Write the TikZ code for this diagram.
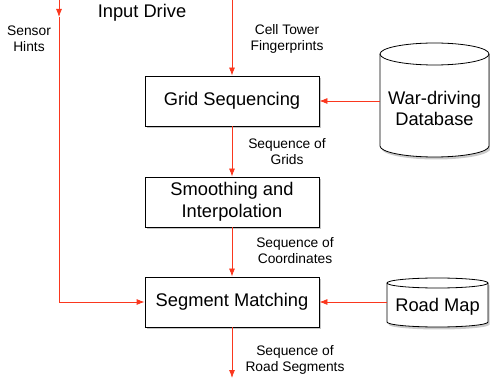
\documentclass[tikz,border=0pt]{standalone}
\usepackage{fontspec}
\setmainfont{Liberation Sans}
\usetikzlibrary{arrows.meta,shadows,calc}
\definecolor{arr}{RGB}{250,55,30}
\newcommand\mycyl[3]{%
  \fill[black!45,opacity=.45,transform canvas={shift={(1.5pt,-2.5pt)}}]
    ($(#1.north west)+(0,#3)$) -- ($(#1.south west)+(0,-#3)$)
    arc[start angle=180,end angle=360,x radius=#2pt,y radius=#3pt]
    -- ($(#1.north east)+(0,#3)$)
    arc[start angle=0,end angle=180,x radius=#2pt,y radius=#3pt] -- cycle;
  \draw[fill=white,line width=0.8pt]
    ($(#1.north west)+(0,#3)$) -- ($(#1.south west)+(0,-#3)$)
    arc[start angle=180,end angle=360,x radius=#2pt,y radius=#3pt]
    -- ($(#1.north east)+(0,#3)$)
    arc[start angle=0,end angle=180,x radius=#2pt,y radius=#3pt] -- cycle;
  \draw[line width=0.8pt] ($(#1.north west)+(0,#3)$)
    arc[start angle=180,end angle=360,x radius=#2pt,y radius=#3pt];
}
\begin{document}
\begin{tikzpicture}[x=1pt,y=-1pt,
  proc/.style={draw=black,line width=0.8pt,fill=white,minimum width=174pt,
    minimum height=50pt,inner sep=0pt,align=center,
    font=\fontsize{18.3}{22}\selectfont,
    drop shadow={shadow xshift=1.5pt,shadow yshift=-2.5pt,opacity=.45}},
  lab/.style={align=center,font=\fontsize{13.8}{16}\selectfont,inner sep=0pt},
  big/.style={align=center,font=\fontsize{18.3}{21}\selectfont,inner sep=0pt},
  bounds/.style={inner sep=0pt,outer sep=0pt},
  flow/.style={draw=arr,line width=0.8pt,-{Latex[length=8pt,width=6pt]}},
  plain/.style={draw=arr,line width=0.8pt}]
\useasboundingbox (0,0) rectangle (490,379);

% process boxes
\node[proc] (grid) at (232,101) {Grid Sequencing};
\node[proc] (smooth) at (232,202) {Smoothing and\\Interpolation};
\node[proc] (seg) at (232,302) {Segment Matching};

% cylinders
\node[bounds,minimum width=109pt,minimum height=114pt] (db) at (434.5,100) {};
\mycyl{db}{54.5}{11}
\node[big] (dbt) at (434.5,108) {War-driving\\Database};

\node[bounds,minimum width=101pt,minimum height=49pt] (rm) at (437.5,302.5) {};
\mycyl{rm}{50.5}{5}
\node[big] (rmt) at (437.5,307) {Road Map};

% free ends
\coordinate (in) at (232,0);
\coordinate (out) at (232,378);
\coordinate (s0) at (59,0);
\coordinate (s1) at (59,17);

% connectors
\draw[flow] (in) -- (grid.north);
\draw[flow] (grid) -- (smooth);
\draw[flow] (smooth) -- (seg);
\draw[flow] (seg.south) -- (out);
\draw[flow] (db.west |- grid.east) -- (grid.east);
\draw[flow] (rm.west |- seg.east) -- (seg.east);
\draw[flow] (s0) -- (s1);
\draw[flow] (s1) |- (seg.west);

% labels
\node[big] (inlab) at (142,13) {Input Drive};
\node[lab] (sh) at (29,39) {Sensor\\Hints};
\node[lab] (ct) at (287,39) {Cell Tower\\Fingerprints};
\node[lab] (sg) at (287,151.5) {Sequence of\\Grids};
\node[lab] (sc) at (295,251) {Sequence of\\Coordinates};
\node[lab] (sr) at (295,359.5) {Sequence of\\Road Segments};
\end{tikzpicture}
\end{document}
